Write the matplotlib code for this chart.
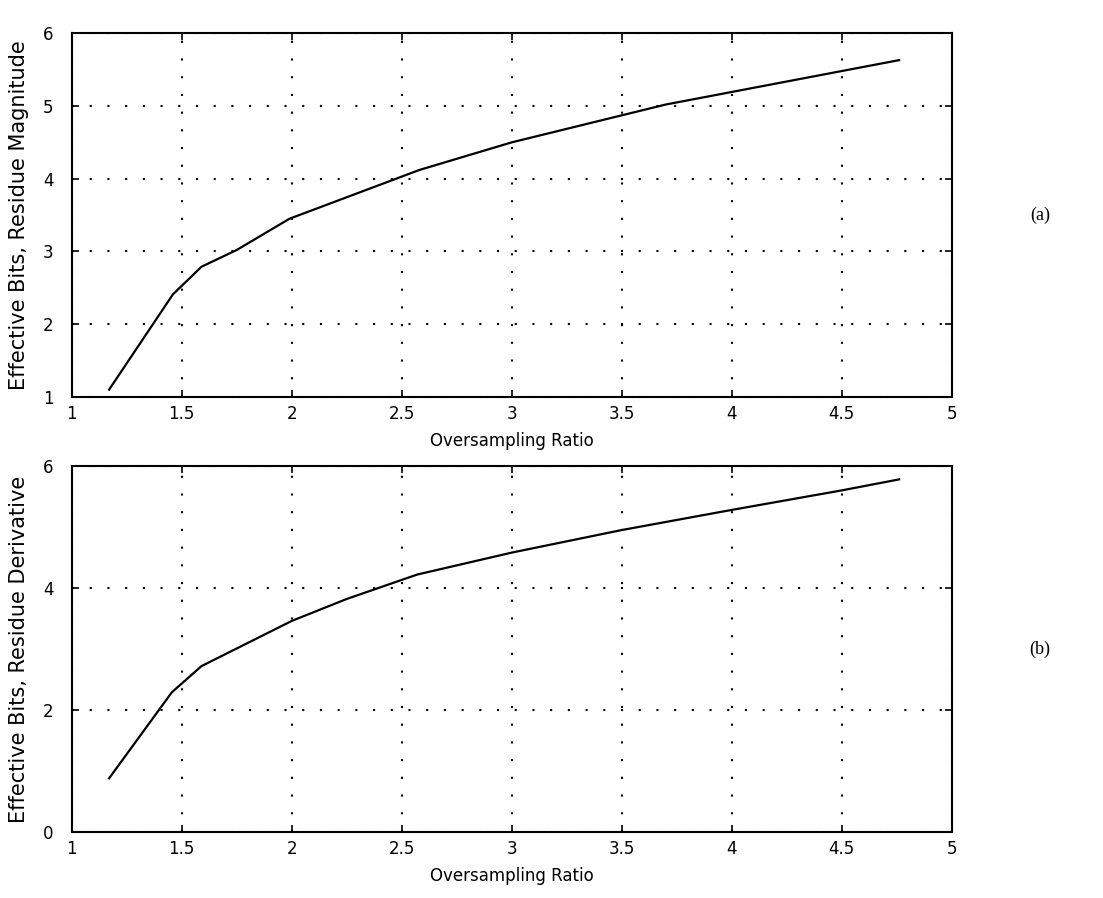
import matplotlib.pyplot as plt
import numpy as np

plt.rcParams['font.family'] = ['DejaVu Sans']
plt.rcParams['font.size'] = 12

# (a) effective bits vs oversampling, residue magnitude
ratio_a = [1.17, 1.46, 1.59, 1.75, 1.99, 2.58, 3.0, 3.7, 4.76]
bits_a = [1.10, 2.41, 2.79, 3.02, 3.45, 4.12, 4.50, 5.02, 5.63]

# (b) effective bits vs oversampling, residue derivative
ratio_b = [1.17, 1.455, 1.59, 2.0, 2.25, 2.57, 3.0, 3.5, 4.0, 4.5, 4.76]
bits_b = [0.88, 2.29, 2.72, 3.46, 3.82, 4.22, 4.58, 4.95, 5.28, 5.60, 5.78]

xticks = [1, 1.5, 2, 2.5, 3, 3.5, 4, 4.5, 5]
xticklabels = ['1', '1.5', '2', '2.5', '3', '3.5', '4', '4.5', '5']

fig = plt.figure(figsize=(11.03, 8.98), dpi=100)
ax1 = fig.add_axes([0.065, 0.558, 0.798, 0.405])
ax2 = fig.add_axes([0.065, 0.0735, 0.798, 0.4076])

panels = [
    (ax1, ratio_a, bits_a, (1, 6), [1, 2, 3, 4, 5, 6], 'Effective Bits, Residue Magnitude', '(a)'),
    (ax2, ratio_b, bits_b, (0, 6), [0, 2, 4, 6], 'Effective Bits, Residue Derivative', '(b)'),
]

for ax, x, y, ylim, yticks, ylabel, tag in panels:
    ax.plot(x, y, color='black', lw=1.6)
    ax.set_xlim(1, 5)
    ax.set_ylim(*ylim)
    ax.set_xticks(xticks)
    ax.set_xticklabels(xticklabels)
    ax.set_yticks(yticks)
    ax.grid(True, color='black', linestyle=(0, (1, 7.5)), linewidth=1.5)
    ax.tick_params(direction='in', top=True, right=True, length=5, width=1.2,
                   labelsize=12)
    ax.tick_params(axis='x', pad=6)
    ax.tick_params(axis='y', pad=13)
    for s in ax.spines.values():
        s.set_linewidth(1.5)
    ax.set_xlabel('Oversampling Ratio', fontsize=12, labelpad=6)
    ax.set_ylabel(ylabel, fontsize=15, labelpad=10)
    pos = ax.get_position()
    fig.text(0.943, pos.y0 + pos.height / 2, tag, fontsize=13,
             family='Liberation Serif', ha='center', va='center')

fig.savefig('out.png', dpi=100)
